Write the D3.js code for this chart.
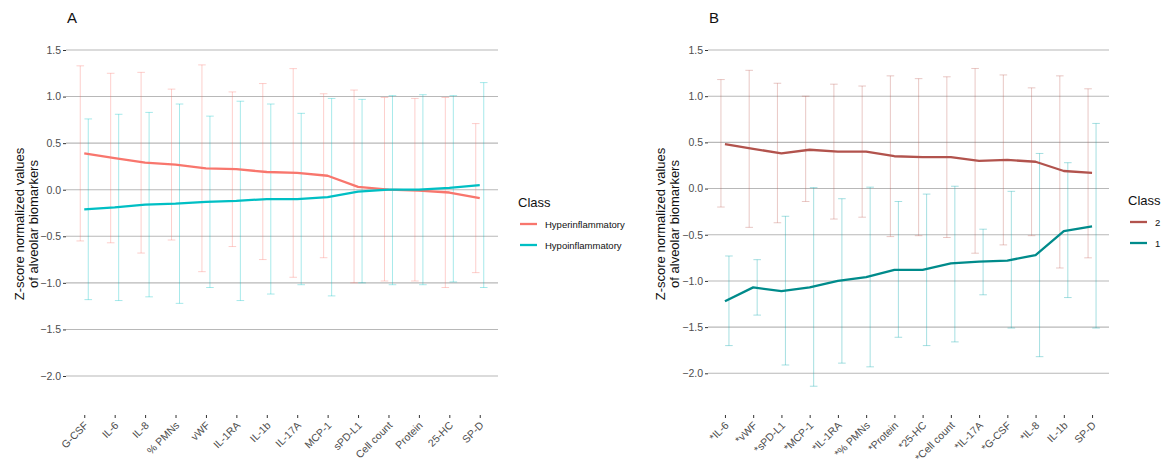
<!DOCTYPE html>
<html>
<head>
<meta charset="utf-8">
<script src="https://cdn.jsdelivr.net/npm/d3@7"></script>
<style>
  body { margin: 0; background: white; }
  svg { font-family: Arial, "Liberation Sans", sans-serif; }
</style>
</head>
<body>
<svg id="chart" width="1170" height="462"></svg>
<script>
// ---- panel A data ----
let catsA = ["G-CSF","IL-6","IL-8","% PMNs","vWF","IL-1RA","IL-1b","IL-17A","MCP-1","sPD-L1","Cell count","Protein","25-HC","SP-D"];
let hyperMean = [0.39,0.34,0.29,0.27,0.23,0.22,0.19,0.18,0.15,0.03,0.00,-0.01,-0.03,-0.09];
let hyperLo   = [-0.55,-0.57,-0.68,-0.54,-0.88,-0.61,-0.75,-0.94,-0.73,-1.00,-0.98,-0.98,-1.05,-0.89];
let hyperHi   = [1.33,1.25,1.26,1.08,1.34,1.05,1.14,1.30,1.03,1.07,0.99,0.98,0.99,0.71];
let hypoMean  = [-0.21,-0.19,-0.16,-0.15,-0.13,-0.12,-0.10,-0.10,-0.08,-0.02,0.00,0.00,0.02,0.05];
let hypoLo    = [-1.18,-1.19,-1.15,-1.22,-1.05,-1.19,-1.12,-1.02,-1.14,-1.00,-1.02,-1.02,-0.99,-1.05];
let hypoHi    = [0.76,0.81,0.83,0.92,0.79,0.95,0.92,0.82,0.98,0.97,1.01,1.02,1.01,1.15];

// ---- panel B data ----
let catsB = ["*IL-6","*vWF","*sPD-L1","*MCP-1","*IL-1RA","*% PMNs","*Protein","*25-HC","*Cell count","*IL-17A","*G-CSF","*IL-8","IL-1b","SP-D"];
let c2Mean = [0.48,0.43,0.38,0.42,0.40,0.40,0.35,0.34,0.34,0.30,0.31,0.29,0.19,0.17];
let c2Lo   = [-0.20,-0.42,-0.37,-0.14,-0.33,-0.31,-0.52,-0.51,-0.53,-0.70,-0.61,-0.51,-0.86,-0.75];
let c2Hi   = [1.18,1.28,1.14,1.00,1.13,1.11,1.22,1.19,1.21,1.30,1.23,1.09,1.22,1.08];
let c1Mean = [-1.22,-1.07,-1.11,-1.07,-1.00,-0.96,-0.88,-0.88,-0.81,-0.79,-0.78,-0.72,-0.46,-0.41];
let c1Lo   = [-1.70,-1.37,-1.91,-2.14,-1.89,-1.93,-1.61,-1.70,-1.66,-1.15,-1.51,-1.82,-1.18,-1.51];
let c1Hi   = [-0.73,-0.77,-0.30,0.01,-0.11,0.015,-0.14,-0.06,0.025,-0.44,-0.03,0.38,0.28,0.705];

let yTicks = [1.5,1.0,0.5,0.0,-0.5,-1.0,-1.5,-2.0];

let svg = d3.select("#chart");

function drawPanel(cfg){
    let g = svg.append("g");

    let x = d3.scalePoint()
        .domain(cfg.cats)
        .range([cfg.x0, cfg.x1])
        .padding(0.6);

    let y = d3.scaleLinear()
        .domain([-2, 1.5])
        .range([cfg.yMinus2, cfg.yTop]);

    // panel tag
    g.append("text")
        .attr("x", cfg.x0 + 1).attr("y", 23)
        .attr("font-size", 15).attr("fill", "#111")
        .text(cfg.tag);

    // gridlines
    g.selectAll(".grid")
        .data(yTicks)
        .enter().append("line")
        .attr("x1", cfg.x0).attr("x2", cfg.x1)
        .attr("y1", d => y(d)).attr("y2", d => y(d))
        .attr("stroke", "#b8b8b8").attr("stroke-width", 1.1);

    // y axis
    let yAxis = d3.axisLeft(y)
        .tickValues(yTicks)
        .tickFormat(d3.format(".1f"))
        .tickSize(3).tickPadding(2);
    let ya = g.append("g")
        .attr("transform", "translate(" + cfg.x0 + ",0)")
        .call(yAxis);
    ya.select(".domain").remove();
    ya.selectAll("line").attr("stroke", "#333");
    ya.selectAll("text")
        .attr("font-size", 10.5).attr("fill", "#4d4d4d")
        .attr("font-family", "Arial, 'Liberation Sans', sans-serif");

    // x axis
    let xAxis = d3.axisBottom(x).tickSize(3).tickPadding(2);
    let xa = g.append("g")
        .attr("transform", "translate(0," + cfg.yBottom + ")")
        .call(xAxis);
    xa.select(".domain").remove();
    xa.selectAll("line").attr("stroke", "#333");
    xa.selectAll("text")
        .attr("font-size", 10.5).attr("fill", "#4d4d4d")
        .attr("font-family", "Arial, 'Liberation Sans', sans-serif")
        .attr("text-anchor", "end")
        .attr("dy", null).attr("y", null)
        .attr("transform", "translate(4,11) rotate(-45)");

    // y title
    let yt = g.append("text")
        .attr("transform", "translate(" + cfg.titleX + ",224) rotate(-90)")
        .attr("text-anchor", "middle")
        .attr("font-size", 13).attr("fill", "#111");
    yt.append("tspan").attr("x", 0).attr("dy", 0).text("Z-score normalized values");
    yt.append("tspan").attr("x", 0).attr("dy", 14).text("of alveolar biomarkers");

    // error bars + lines per series
    cfg.series.forEach(s => {
        let rows = cfg.cats.map((c, i) => ({cat: c, m: s.mean[i], lo: s.lo[i], hi: s.hi[i]}));
        let eb = g.append("g")
            .attr("stroke", s.color)
            .attr("stroke-opacity", s.barOpacity)
            .attr("stroke-width", 1);
        eb.selectAll(".v").data(rows).enter().append("line")
            .attr("x1", d => x(d.cat) + s.dodge).attr("x2", d => x(d.cat) + s.dodge)
            .attr("y1", d => y(d.lo)).attr("y2", d => y(d.hi));
        eb.selectAll(".t").data(rows).enter().append("line")
            .attr("x1", d => x(d.cat) + s.dodge - 3.8).attr("x2", d => x(d.cat) + s.dodge + 3.8)
            .attr("y1", d => y(d.hi)).attr("y2", d => y(d.hi));
        eb.selectAll(".b").data(rows).enter().append("line")
            .attr("x1", d => x(d.cat) + s.dodge - 3.8).attr("x2", d => x(d.cat) + s.dodge + 3.8)
            .attr("y1", d => y(d.lo)).attr("y2", d => y(d.lo));
    });
    cfg.series.forEach(s => {
        let line = d3.line()
            .x((d, i) => x(cfg.cats[i]))
            .y(d => y(d));
        g.append("path")
            .datum(s.mean)
            .attr("d", line)
            .attr("fill", "none")
            .attr("stroke", s.lineColor)
            .attr("stroke-width", 2.3)
            .attr("stroke-linejoin", "round");
    });

    // legend
    let lg = g.append("g");
    lg.append("text")
        .attr("x", cfg.legX).attr("y", cfg.legY)
        .attr("font-size", 13).attr("fill", "#111")
        .text("Class");
    cfg.series.forEach((s, i) => {
        let yy = cfg.legY + 17 + i * 21;
        lg.append("line")
            .attr("x1", cfg.legX + 2).attr("x2", cfg.legX + 19)
            .attr("y1", yy).attr("y2", yy)
            .attr("stroke", s.lineColor).attr("stroke-width", 2.3);
        lg.append("text")
            .attr("x", cfg.legX + 27).attr("y", yy + 3.5)
            .attr("font-size", 9.5).attr("fill", "#111")
            .text(s.name);
    });
}

drawPanel({
    tag: "A",
    cats: catsA,
    x0: 66, x1: 498,
    yTop: 50, yMinus2: 376, yBottom: 415,
    titleX: 24,
    legX: 518, legY: 207,
    series: [
        {name: "Hyperinflammatory", mean: hyperMean, lo: hyperLo, hi: hyperHi,
         color: "#F8766D", lineColor: "#F8766D", barOpacity: 0.35, dodge: -4},
        {name: "Hypoinflammatory", mean: hypoMean, lo: hypoLo, hi: hypoHi,
         color: "#00BFC4", lineColor: "#00BFC4", barOpacity: 0.35, dodge: 4}
    ]
});

drawPanel({
    tag: "B",
    cats: catsB,
    x0: 708, x1: 1109,
    yTop: 50, yMinus2: 373.3, yBottom: 415,
    titleX: 665,
    legX: 1128, legY: 205,
    series: [
        {name: "2", mean: c2Mean, lo: c2Lo, hi: c2Hi,
         color: "#C0605A", lineColor: "#B2534D", barOpacity: 0.35, dodge: -4},
        {name: "1", mean: c1Mean, lo: c1Lo, hi: c1Hi,
         color: "#1FB0B4", lineColor: "#008B8B", barOpacity: 0.4, dodge: 4}
    ]
});
</script>
</body>
</html>
